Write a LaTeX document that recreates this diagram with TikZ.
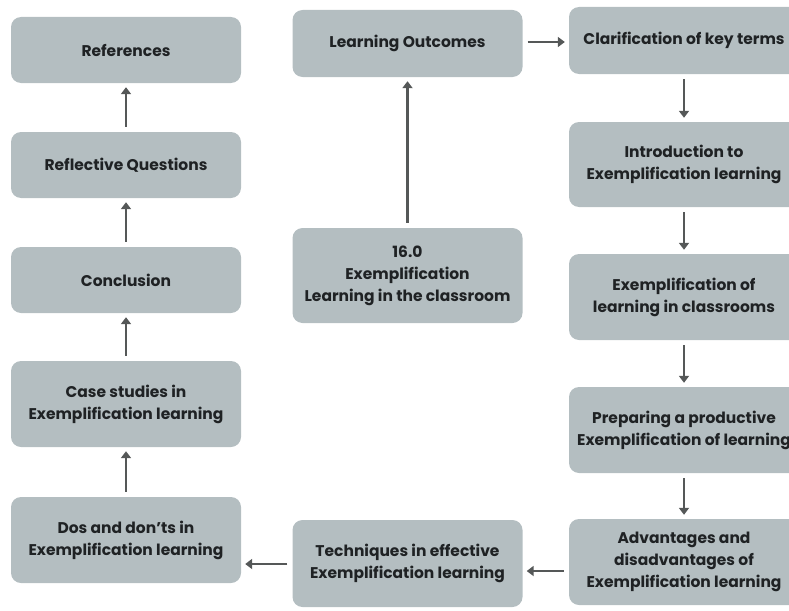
\documentclass[tikz,border=0pt]{standalone}
\usepackage{fontspec}
\setmainfont{Poppins}
\usetikzlibrary{arrows.meta}
\definecolor{boxfill}{HTML}{B4BEC1}
\definecolor{boxtext}{HTML}{1F2224}
\definecolor{arrowgrey}{HTML}{555858}
\begin{document}
\begin{tikzpicture}[x=1pt,y=-1pt,
  topic/.style={fill=boxfill, rounded corners=10pt, text=boxtext,
    font=\bfseries\fontsize{15.5}{22}\selectfont, align=center, inner sep=0pt,
    minimum width=230pt},
  flow/.style={draw=arrowgrey, line width=2.5pt,
    -{Triangle[length=7pt,width=10pt]}, shorten >=4pt, shorten <=5pt}]
\useasboundingbox (0,0) rectangle (789,610);
\clip (0,0) rectangle (789,610);

% left column
\node[topic, minimum height=66pt] (refs)  at (126,50)  {References};
\node[topic, minimum height=66pt] (rq)    at (126,165) {Reflective Questions};
\node[topic, minimum height=66pt] (concl) at (126,280) {Conclusion};
\node[topic, minimum height=86pt] (case)  at (126,404) {Case studies in\\Exemplification learning};
\node[topic, minimum height=86pt] (dos)   at (126,540) {Dos and don’ts in\\Exemplification learning};

% middle column
\node[topic, minimum height=67pt] (lo)   at (407.5,43.5)  {Learning Outcomes};
\node[topic, minimum height=95pt] (main) at (407.5,275.5) {16.0\\Exemplification\\Learning in the classroom};
\node[topic, minimum height=87pt] (tech) at (407.5,563.5) {Techniques in effective\\Exemplification learning};

% right column
\node[topic, minimum height=67pt] (clar)  at (684,40.5) {Clarification of key terms};
\node[topic, minimum height=85pt] (intro) at (684,164.5) {Introduction to\\Exemplification learning};
\node[topic, minimum height=86pt] (excl)  at (684,297) {Exemplification of\\learning in classrooms};
\node[topic, minimum height=86pt] (prep)  at (684,430) {Preparing a productive\\Exemplification of learning};
\node[topic, minimum height=86pt] (adv)   at (684,562) {Advantages and\\disadvantages of\\Exemplification learning};

% connectors
\draw[flow] (main.north) -- (lo.south);
\draw[flow] (lo.east |- 0,42) -- (clar.west |- 0,42);
\draw[flow] (clar.south) -- (intro.north);
\draw[flow] (intro.south) -- (excl.north);
\draw[flow] (excl.south) -- (prep.north);
\draw[flow] (prep.south) -- (adv.north);
\draw[flow] (adv.west |- 0,571) -- (tech.east |- 0,571);
\draw[flow] (tech.west |- 0,564) -- (dos.east |- 0,564);
\draw[flow] (dos.north) -- (case.south);
\draw[flow] (case.north) -- (concl.south);
\draw[flow] (concl.north) -- (rq.south);
\draw[flow] (rq.north) -- (refs.south);
\end{tikzpicture}
\end{document}
